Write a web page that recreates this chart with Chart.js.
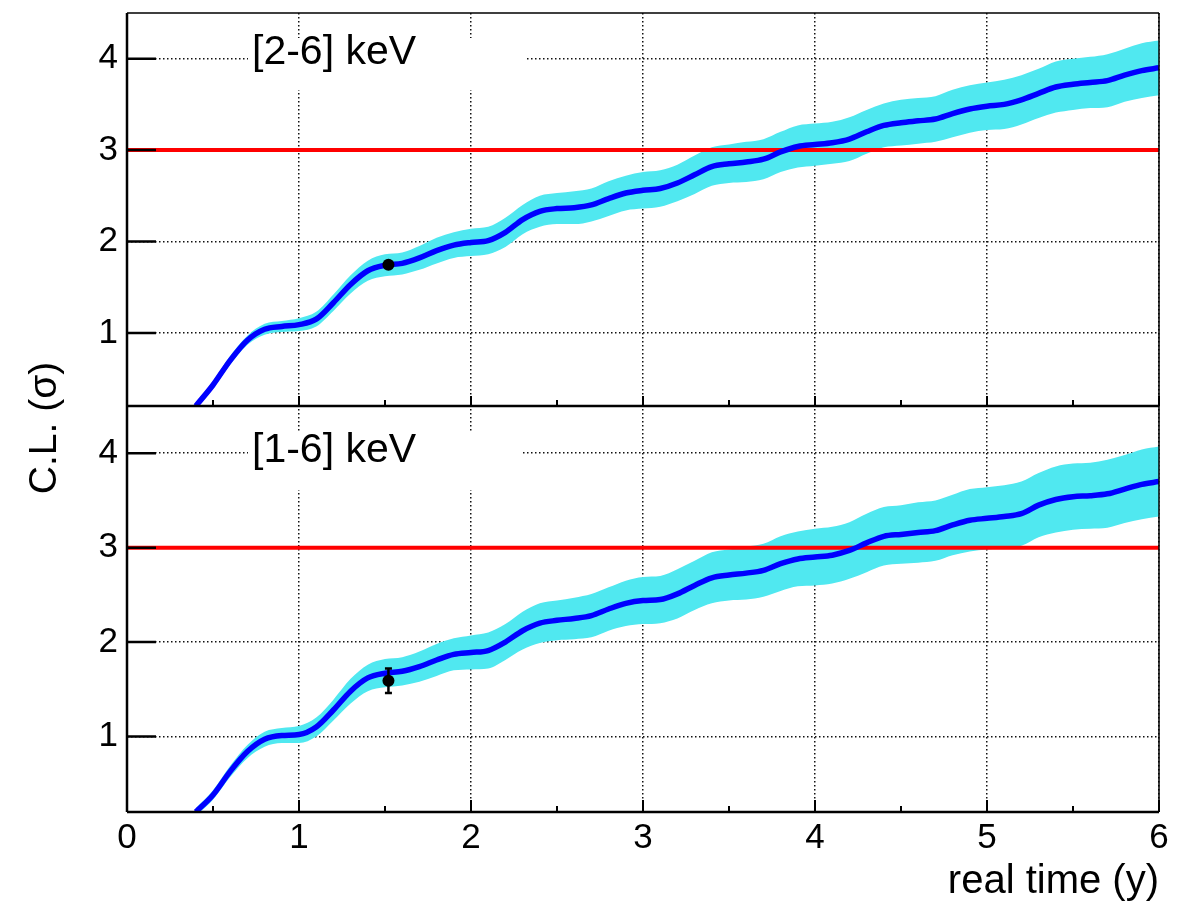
<!DOCTYPE html>
<html>
<head>
<meta charset="utf-8">
<title>C.L. vs real time</title>
<script src="https://cdn.jsdelivr.net/npm/chart.js@4.4.1/dist/chart.umd.min.js"></script>
<style>
  html, body { margin: 0; padding: 0; background: #fff; }
  #wrap { width: 1182px; height: 909px; }
</style>
</head>
<body>
<div id="wrap"><canvas id="chart" width="1182" height="909"></canvas></div>
<script>
// real time in years
const timeYears = [
  0.4, 0.5, 0.6, 0.7, 0.8, 0.9, 1.0, 1.1, 1.2, 1.3, 1.4, 1.5, 1.6, 1.7, 1.8, 1.9,
  2.0, 2.1, 2.2, 2.3, 2.4, 2.5, 2.6, 2.7, 2.8, 2.9, 3.0, 3.1, 3.2, 3.3, 3.4, 3.5,
  3.6, 3.7, 3.8, 3.9, 4.0, 4.1, 4.2, 4.3, 4.4, 4.5, 4.6, 4.7, 4.8, 4.9, 5.0, 5.1,
  5.2, 5.3, 5.4, 5.5, 5.6, 5.7, 5.8, 5.9, 6.0
];

// [2-6] keV panel: expected C.L. and band half width
const clTop = [
  0.20, 0.43, 0.70, 0.92, 1.04, 1.07, 1.09, 1.15, 1.33, 1.53, 1.68, 1.74, 1.76, 1.82, 1.90, 1.96,
  1.99, 2.01, 2.10, 2.24, 2.33, 2.36, 2.37, 2.40, 2.47, 2.53, 2.56, 2.58, 2.64, 2.73, 2.82, 2.85,
  2.87, 2.90, 2.98, 3.04, 3.06, 3.08, 3.12, 3.20, 3.27, 3.30, 3.32, 3.34, 3.40, 3.45, 3.48, 3.50,
  3.55, 3.62, 3.69, 3.72, 3.74, 3.76, 3.82, 3.87, 3.90
];
const errTop = [
  0.03, 0.04, 0.05, 0.05, 0.06, 0.06, 0.07, 0.08, 0.09, 0.10, 0.11, 0.12, 0.12, 0.13, 0.14, 0.14,
  0.15, 0.15, 0.16, 0.16, 0.17, 0.17, 0.18, 0.18, 0.19, 0.19, 0.20, 0.20, 0.20, 0.21, 0.21, 0.21,
  0.22, 0.22, 0.22, 0.23, 0.23, 0.23, 0.24, 0.24, 0.24, 0.25, 0.25, 0.25, 0.26, 0.26, 0.26, 0.27,
  0.27, 0.27, 0.28, 0.28, 0.28, 0.29, 0.29, 0.30, 0.30
];

// [1-6] keV panel
const clBottom = [
  0.20, 0.38, 0.63, 0.84, 0.97, 1.01, 1.02, 1.10, 1.28, 1.48, 1.62, 1.67, 1.69, 1.74, 1.81, 1.87,
  1.89, 1.91, 2.00, 2.12, 2.20, 2.23, 2.25, 2.28, 2.35, 2.41, 2.44, 2.45, 2.51, 2.60, 2.68, 2.71,
  2.73, 2.76, 2.83, 2.88, 2.90, 2.92, 2.97, 3.05, 3.12, 3.14, 3.16, 3.18, 3.24, 3.29, 3.31, 3.33,
  3.36, 3.45, 3.51, 3.54, 3.55, 3.57, 3.62, 3.67, 3.70
];
const errBottom = [
  0.04, 0.05, 0.06, 0.07, 0.08, 0.08, 0.09, 0.10, 0.11, 0.13, 0.14, 0.15, 0.15, 0.16, 0.17, 0.17,
  0.18, 0.19, 0.19, 0.20, 0.21, 0.21, 0.22, 0.23, 0.23, 0.24, 0.25, 0.25, 0.26, 0.26, 0.27, 0.27,
  0.28, 0.28, 0.29, 0.29, 0.30, 0.30, 0.30, 0.31, 0.31, 0.31, 0.32, 0.32, 0.32, 0.33, 0.33, 0.33,
  0.34, 0.34, 0.35, 0.35, 0.35, 0.36, 0.36, 0.37, 0.37
];

// measured points
const measuredTime = [1.52];
const measuredTop = [1.745];
const measuredTopErr = [0.03];
const measuredBottom = [1.59];
const measuredBottomErr = [0.13];

const thresholdTime = [0, 6];
const thresholdCL = [3, 3];

const xTicks = [0, 1, 2, 3, 4, 5, 6];
const xMinorTicks = [0, 0.5, 1, 1.5, 2, 2.5, 3, 3.5, 4, 4.5, 5, 5.5, 6];
const yTicks = [1, 2, 3, 4];
const panelLabels = ['[2-6] keV', '[1-6] keV'];

const FONT = '"Liberation Sans", Arial, Helvetica, sans-serif';
const BAND = 'rgb(80,232,240)';
const canvas = document.getElementById('chart');

const pts = (xs, ys) => xs.map((x, i) => ({ x, y: ys[i] }));
const shifted = (ys, errs, sign) => ys.map((y, i) => y + sign * errs[i]);

function panelDatasets(axis, cl, err, mx, my) {
  return [
    { data: pts(mx, my), yAxisID: axis, showLine: false, pointRadius: 6, pointBackgroundColor: '#000',
      pointBorderWidth: 0, order: 0 },
    { data: pts(timeYears, cl), yAxisID: axis, borderColor: '#0000ff', borderWidth: 5.5, pointRadius: 0,
      cubicInterpolationMode: 'monotone', fill: false, order: 1 },
    { data: pts(thresholdTime, thresholdCL), yAxisID: axis, borderColor: '#ff0000', borderWidth: 4,
      pointRadius: 0, fill: false, order: 2 },
    { data: pts(timeYears, shifted(cl, err, 1)), yAxisID: axis, borderWidth: 0, borderColor: 'rgba(0,0,0,0)',
      pointRadius: 0, cubicInterpolationMode: 'monotone', fill: '+1', backgroundColor: BAND, order: 3 },
    { data: pts(timeYears, shifted(cl, err, -1)), yAxisID: axis, borderWidth: 0, borderColor: 'rgba(0,0,0,0)',
      pointRadius: 0, cubicInterpolationMode: 'monotone', fill: false, order: 4 }
  ];
}

function noPadding(s) {
  s.paddingTop = 0;
  s.paddingBottom = 0;
  s.paddingLeft = 0;
  s.paddingRight = 0;
}

const gridOpts = { color: '#111', lineWidth: 1.5, drawTicks: false };
const borderOpts = { display: false, dash: [1.5, 2.5] };

function yScale(weight, stackWeight) {
  return {
    type: 'linear', min: 0.2, max: 4.5, position: 'left', stack: 'panels', stackWeight, weight,
    afterBuildTicks: s => { s.ticks = yTicks.map(v => ({ value: v })); },
    afterFit: s => { s.width = 127; noPadding(s); },
    grid: gridOpts,
    border: borderOpts,
    ticks: { color: '#000', font: { family: FONT, size: 35 }, padding: 9 }
  };
}

const decorations = {
  id: 'decorations',
  beforeDatasetsDraw(chart) {
    const { ctx, chartArea } = chart;
    const top = chart.scales.yTop, bot = chart.scales.yBot;
    ctx.save();
    ctx.fillStyle = '#fff';
    ctx.fillRect(chartArea.left + 121, top.top + 25, 279, 52);
    ctx.fillRect(chartArea.left + 121, bot.top + 26, 275, 58);
    ctx.fillStyle = '#000';
    ctx.font = '41px ' + FONT;
    ctx.textBaseline = 'alphabetic';
    ctx.textAlign = 'left';
    ctx.fillText(panelLabels[0], chartArea.left + 125, top.top + 51);
    ctx.fillText(panelLabels[1], chartArea.left + 125, bot.top + 56);
    ctx.restore();
  },
  afterDatasetsDraw(chart) {
    const { ctx, chartArea } = chart;
    const x = chart.scales.x, top = chart.scales.yTop, bot = chart.scales.yBot;
    ctx.save();
    ctx.strokeStyle = '#000';
    // error bars of the measured points
    ctx.lineWidth = 2.5;
    [[top, measuredTop, measuredTopErr], [bot, measuredBottom, measuredBottomErr]].forEach(([s, ys, es]) => {
      measuredTime.forEach((t, i) => {
        const px = x.getPixelForValue(t);
        const y1 = s.getPixelForValue(ys[i] + es[i]);
        const y2 = s.getPixelForValue(ys[i] - es[i]);
        ctx.beginPath();
        ctx.moveTo(px, y1); ctx.lineTo(px, y2);
        ctx.moveTo(px - 3.5, y1); ctx.lineTo(px + 3.5, y1);
        ctx.moveTo(px - 3.5, y2); ctx.lineTo(px + 3.5, y2);
        ctx.stroke();
      });
    });
    // frames
    [[top, 10], [bot, 12]].forEach(([s, major]) => {
      ctx.lineWidth = 1.5;
      ctx.beginPath();
      ctx.moveTo(chartArea.left, s.top); ctx.lineTo(chartArea.right, s.top);
      ctx.moveTo(chartArea.right, s.top); ctx.lineTo(chartArea.right, s.bottom);
      ctx.stroke();
      ctx.lineWidth = 2.5;
      ctx.beginPath();
      ctx.moveTo(chartArea.left, s.top); ctx.lineTo(chartArea.left, s.bottom);
      ctx.moveTo(chartArea.left, s.bottom); ctx.lineTo(chartArea.right, s.bottom);
      ctx.stroke();
      // x ticks
      ctx.lineWidth = 2;
      ctx.beginPath();
      xMinorTicks.forEach(v => {
        const px = x.getPixelForValue(v);
        const len = Number.isInteger(v) ? major : 6;
        ctx.moveTo(px, s.bottom); ctx.lineTo(px, s.bottom - len);
      });
      ctx.stroke();
      // y ticks
      ctx.lineWidth = 2.5;
      ctx.beginPath();
      yTicks.forEach(v => {
        const py = s.getPixelForValue(v);
        ctx.moveTo(chartArea.left, py); ctx.lineTo(chartArea.left + 29, py);
      });
      ctx.stroke();
    });
    ctx.restore();
  },
  afterDraw(chart) {
    const { ctx } = chart;
    ctx.save();
    ctx.translate(45, 428);
    ctx.rotate(-Math.PI / 2);
    ctx.fillStyle = '#000';
    ctx.font = '39px ' + FONT;
    ctx.textAlign = 'center';
    ctx.textBaseline = 'middle';
    ctx.fillText('C.L. (\u03c3)', 0, 0);
    ctx.restore();
  }
};

new Chart(canvas, {
  type: 'line',
  data: {
    datasets: [
      ...panelDatasets('yTop', clTop, errTop, measuredTime, measuredTop),
      ...panelDatasets('yBot', clBottom, errBottom, measuredTime, measuredBottom)
    ]
  },
  options: {
    responsive: false,
    animation: false,
    devicePixelRatio: 1,
    layout: { padding: { top: 13, right: 23, left: 0, bottom: 0 } },
    plugins: { legend: { display: false }, tooltip: { enabled: false }, title: { display: false } },
    scales: {
      x: {
        type: 'linear', min: 0, max: 6, position: 'bottom',
        afterBuildTicks: s => { s.ticks = xTicks.map(v => ({ value: v })); },
        afterFit: s => { s.height = 97; noPadding(s); },
        grid: gridOpts,
        border: borderOpts,
        ticks: { color: '#000', font: { family: FONT, size: 35 }, padding: 5, maxRotation: 0 },
        title: { display: true, text: 'real time (y)', align: 'end', color: '#000',
          font: { family: FONT, size: 40 }, padding: { top: 0, bottom: 3 } }
      },
      yTop: yScale(2, 393),
      yBot: yScale(1, 406)
    }
  },
  plugins: [decorations]
});
</script>
</body>
</html>
